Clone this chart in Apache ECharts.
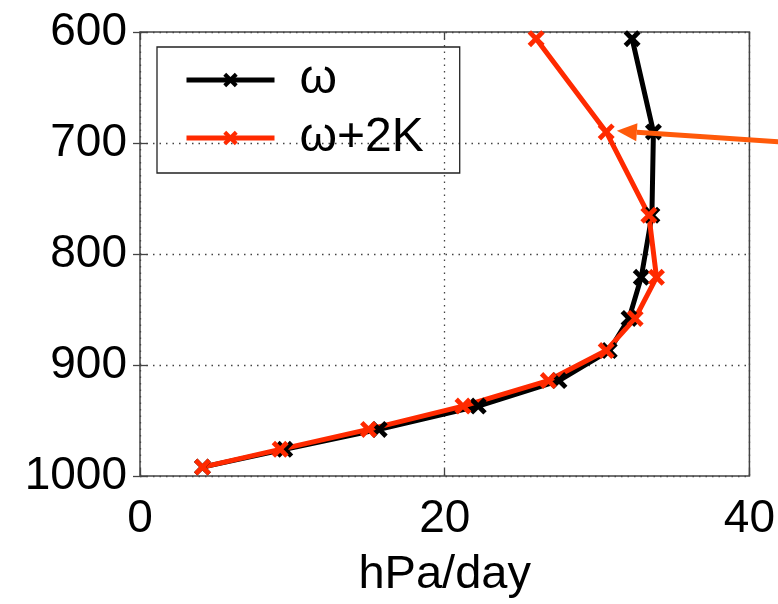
<!DOCTYPE html>
<html><head><meta charset="utf-8">
<script src="https://cdn.jsdelivr.net/npm/echarts@6/dist/echarts.min.js"></script>
<style>html,body{margin:0;padding:0;background:#fff}#c{width:778px;height:604px}</style>
</head><body><div id="c"></div>
<script>
const levels = [606, 690, 765, 821, 858, 887, 914, 937, 958, 976, 992];
const omega = [32.3, 33.7, 33.6, 32.9, 32.1, 30.8, 27.5, 22.2, 15.7, 9.5, 4.1];
const omega2K = [26.0, 30.6, 33.4, 33.9, 32.5, 30.6, 26.8, 21.2, 15.0, 9.2, 4.1];
const seriesNames = ['ω', 'ω+2K'];
const xTicks = [0, 20, 40];
const yTicks = [600, 700, 800, 900, 1000];
const arrowTip = [31.3, 689];
const arrowTail = [42, 699];

const FONT = 'Liberation Sans, Arial, sans-serif';
const XSYM = 'path://M2,0 L5,3 L8,0 L10,2 L7,5 L10,8 L8,10 L5,7 L2,10 L0,8 L3,5 L0,2 Z';
const chart = echarts.init(document.getElementById('c'), null, {renderer: 'canvas'});

function pairs(xs) { return xs.map((v, i) => [v, levels[i]]); }

const gridLine = {show: true, lineStyle: {color: '#444', width: 1.3, type: [1.5, 5]}};
chart.setOption({
  animation: false,
  backgroundColor: '#fff',
  grid: {left: 140, right: 26, top: 32, bottom: 123, show: true, borderColor: '#444', borderWidth: 1.5, backgroundColor: 'transparent'},
  legend: {
    orient: 'vertical', left: 157, top: 47,
    borderColor: '#222', borderWidth: 1.3,
    padding: [9, 36, 11, 27],
    itemWidth: 88, itemHeight: 18, itemGap: 10,
    lineStyle: {width: 5},
    textStyle: {fontFamily: FONT, fontSize: 48, color: '#000', padding: [0, 0, 0, 20]},
    data: seriesNames
  },
  xAxis: [{
    type: 'value', min: xTicks[0], max: xTicks[xTicks.length - 1], interval: 20,
    name: 'hPa/day', nameLocation: 'middle', nameGap: 76,
    nameTextStyle: {fontFamily: FONT, fontSize: 47, color: '#000'},
    axisLine: {show: false}, axisTick: {show: true, inside: true, length: 7, lineStyle: {color: '#444', width: 1.3}},
    axisLabel: {fontFamily: FONT, fontSize: 46, color: '#000', margin: 20},
    splitLine: gridLine
  }, {
    type: 'value', position: 'top', min: xTicks[0], max: xTicks[xTicks.length - 1], interval: 20,
    axisLine: {show: false}, axisTick: {show: true, inside: true, length: 7, lineStyle: {color: '#444', width: 1.3}},
    axisLabel: {show: false}, splitLine: {show: false}
  }],
  yAxis: [{
    type: 'value', inverse: true, min: yTicks[0], max: yTicks[yTicks.length - 1], interval: 100,
    axisLine: {show: false}, axisTick: {show: true, inside: true, length: 7, lineStyle: {color: '#444', width: 1.3}},
    axisLabel: {fontFamily: FONT, fontSize: 46, color: '#000', margin: 13, formatter: v => String(v)},
    splitLine: gridLine
  }, {
    type: 'value', position: 'right', inverse: true, min: yTicks[0], max: yTicks[yTicks.length - 1], interval: 100,
    axisLine: {show: false}, axisTick: {show: true, inside: true, length: 7, lineStyle: {color: '#444', width: 1.3}},
    axisLabel: {show: false}, splitLine: {show: false}
  }],
  series: [{
    name: seriesNames[0], type: 'line', data: pairs(omega),
    symbol: XSYM, symbolSize: 17, showAllSymbol: true,
    lineStyle: {color: '#000', width: 5}, itemStyle: {color: '#000'}
  }, {
    name: seriesNames[1], type: 'line', data: pairs(omega2K),
    symbol: XSYM, symbolSize: 17, showAllSymbol: true,
    lineStyle: {color: '#ff2a00', width: 5}, itemStyle: {color: '#ff2a00'}
  }]
});

const tip = chart.convertToPixel({gridIndex: 0}, arrowTip);
const tail = chart.convertToPixel({gridIndex: 0}, arrowTail);
const dx = tip[0] - tail[0], dy = tip[1] - tail[1];
const len = Math.sqrt(dx * dx + dy * dy);
const ux = dx / len, uy = dy / len;
const headLen = 20, headW = 9;
const bx = tip[0] - ux * headLen, by = tip[1] - uy * headLen;
chart.setOption({
  graphic: [{
    type: 'line', z: 100,
    shape: {x1: tail[0], y1: tail[1], x2: bx, y2: by},
    style: {stroke: '#ff5a0a', lineWidth: 5}
  }, {
    type: 'polygon', z: 100,
    shape: {points: [[tip[0], tip[1]], [bx - uy * headW, by + ux * headW], [bx + uy * headW, by - ux * headW]]},
    style: {fill: '#ff5a0a'}
  }]
});
</script></body></html>
